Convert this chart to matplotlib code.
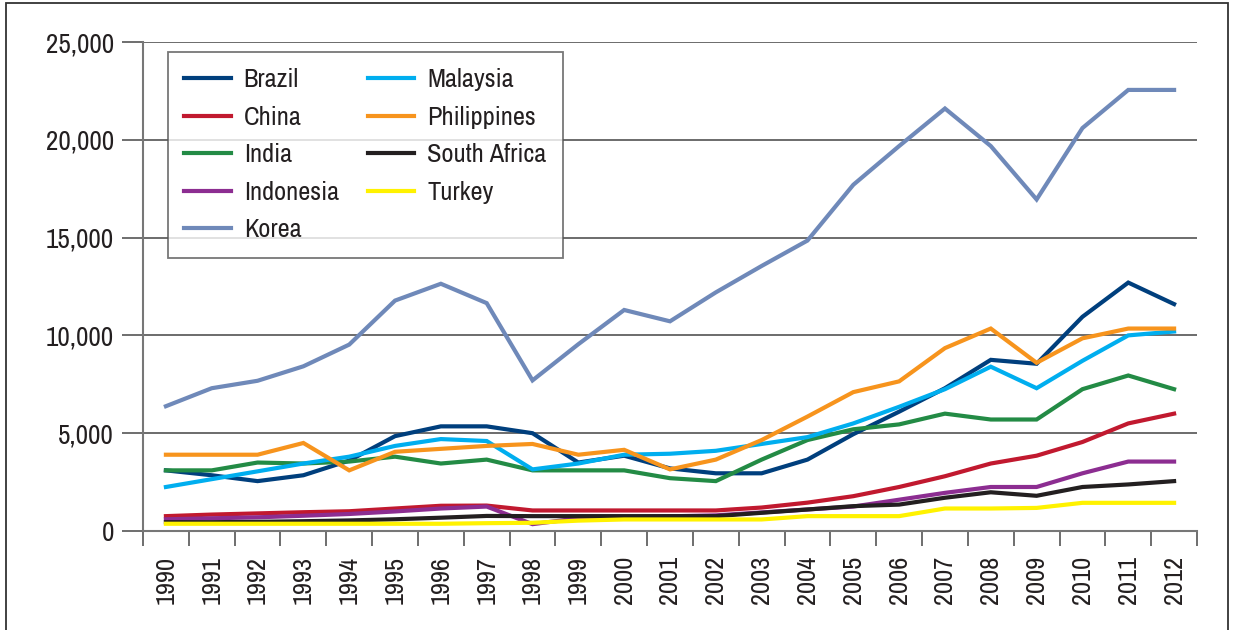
#Imports
import numpy as np
import matplotlib.pyplot as plt
from matplotlib.patches import Rectangle

plt.rcParams['font.family'] = ['Archivo Narrow', 'Liberation Sans', 'DejaVu Sans']

#Data
years = [str(y) for y in range(1990, 2013)]

brazil = [3100, 2850, 2550, 2850, 3600, 4850, 5350, 5350, 5000, 3500, 3850, 3200,
          2950, 2950, 3650, 4950, 6100, 7300, 8750, 8550, 10950, 12700, 11600]
china = [760, 840, 900, 960, 1010, 1150, 1290, 1300, 1050, 1050, 1050, 1050,
         1050, 1200, 1450, 1780, 2250, 2800, 3450, 3850, 4550, 5500, 6000]
india = [3100, 3100, 3500, 3450, 3550, 3800, 3450, 3650, 3100, 3100, 3100, 2700,
         2550, 3650, 4650, 5200, 5450, 6000, 5700, 5700, 7250, 7950, 7250]
indonesia = [600, 650, 700, 780, 870, 1000, 1150, 1250, 350, 650, 700, 750,
             800, 950, 1100, 1250, 1600, 1950, 2250, 2250, 2950, 3550, 3550]
korea = [6380, 7300, 7680, 8420, 9530, 11780, 12640, 11650, 7700, 9550, 11300, 10720,
         12200, 13550, 14850, 17700, 19680, 21600, 19680, 16950, 20600, 22550, 22550]
malaysia = [2250, 2650, 3050, 3450, 3800, 4350, 4700, 4600, 3150, 3450, 3900, 3950,
            4100, 4450, 4800, 5500, 6350, 7250, 8400, 7300, 8700, 10000, 10200]
philippines = [3900, 3900, 3900, 4500, 3100, 4050, 4200, 4350, 4450, 3900, 4150, 3150,
               3650, 4650, 5850, 7100, 7650, 9350, 10350, 8600, 9850, 10350, 10350]
south_africa = [450, 450, 470, 500, 540, 600, 680, 770, 760, 760, 760, 760,
                760, 930, 1100, 1270, 1350, 1700, 1980, 1800, 2250, 2380, 2550]
turkey = [370, 370, 370, 370, 370, 370, 370, 400, 420, 530, 590, 590,
          590, 590, 760, 760, 760, 1150, 1150, 1180, 1440, 1440, 1440]

series = [("Brazil", brazil, "#003f7d"),
          ("China", china, "#c1192f"),
          ("India", india, "#238b45"),
          ("Indonesia", indonesia, "#8c2d91"),
          ("Korea", korea, "#6f89b9"),
          ("Malaysia", malaysia, "#00aeef"),
          ("Philippines", philippines, "#f7941d"),
          ("South Africa", south_africa, "#231f20"),
          ("Turkey", turkey, "#fff200")]

#Figure
fig = plt.figure(figsize=(12.34, 6.3), dpi=100)
ax = fig.add_axes([143/1234, 1-531/630, 1054/1234, 489/630])

x = np.arange(len(years))
for name, vals, col in series:
    ax.plot(x, vals, color=col, lw=3, label=name, solid_joinstyle='miter')

#Axes
ax.set_xlim(-0.5, len(years)-0.5)
ax.set_ylim(0, 25000)
ax.set_yticks(np.arange(0, 25001, 5000))
ax.set_yticklabels(["{:,}".format(v) for v in range(0, 25001, 5000)], fontsize=19.5, color='#231f20')
ax.set_xticks(x)
ax.set_xticklabels(years, rotation=90, fontsize=19, color='#231f20')
ax.set_xticks(np.arange(-0.5, len(years), 1), minor=True)
ax.tick_params(axis='x', which='major', length=0, pad=18)
ax.tick_params(axis='x', which='minor', length=11, width=1.2, color='#555555')
ax.tick_params(axis='y', length=15, width=1.2, color='#555555', pad=6)
ax.grid(axis='y', color='#444444', lw=1.1)
ax.set_axisbelow(True)
for s in ['top', 'right']:
    ax.spines[s].set_visible(False)
for s in ['left', 'bottom']:
    ax.spines[s].set_color('#777777')
    ax.spines[s].set_linewidth(1.5)

#Legend
leg = ax.legend(ncol=2, loc='upper left', bbox_to_anchor=(25/1054, 1-10/489),
                borderaxespad=0, fontsize=19, frameon=True, fancybox=False,
                edgecolor='#555555', handlelength=1.75, handletextpad=0.5,
                columnspacing=1.1, labelspacing=0.55, borderpad=0.62)
leg.get_frame().set_linewidth(1.3)
for t in leg.get_texts():
    t.set_color('#231f20')

#Outer frame
fig.patches.append(Rectangle((6/1234, -0.05), 1222/1234, 1.05-3/630,
                             transform=fig.transFigure, fill=False,
                             edgecolor='#333333', lw=1.3))

fig.savefig("out.png", dpi=100)
